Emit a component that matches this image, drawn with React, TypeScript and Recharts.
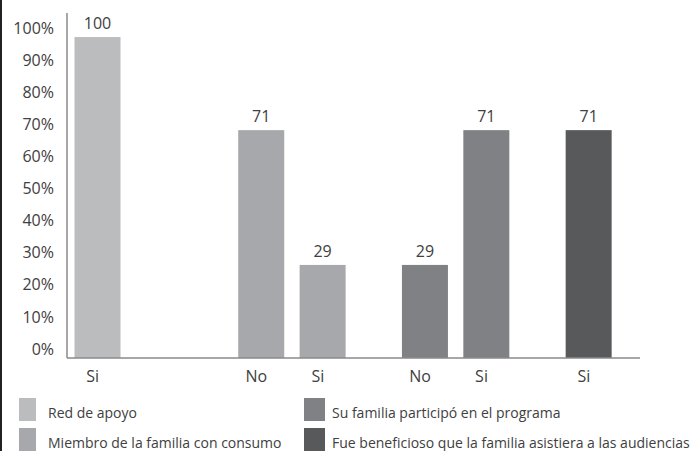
import React from 'react';
import { BarChart, Bar, XAxis, YAxis, Cell, LabelList, Legend } from 'recharts';

const labels = ['Si', 'No', 'Si', 'No', 'Si', 'Si'];
const seriesNames = [
  'Red de apoyo',
  'Miembro de la familia con consumo',
  'Su familia participó en el programa',
  'Fue beneficioso que la familia asistiera a las audiencias'
];
const redDeApoyo = [100, null, null, null, null, null];
const miembroFamilia = [null, 71, 29, null, null, null];
const suFamilia = [null, null, null, 29, 71, null];
const fueBeneficioso = [null, null, null, null, null, 71];
const yTicks = [0, 10, 20, 30, 40, 50, 60, 70, 80, 90, 100];

const seriesValues = [redDeApoyo, miembroFamilia, suFamilia, fueBeneficioso];
const colors = ['#bbbcbe', '#a7a8ab', '#808184', '#58595b'];

// empty category slots used to space the bars like the original
const blanksBefore = [1, 7, 2, 4, 2, 4];
const blanksAfter = 2;

type Row = { label: string; value: number | null; group: number };

const rows: Row[] = [];
labels.forEach((label, i) => {
  for (let b = 0; b < blanksBefore[i]; b++) rows.push({ label: '', value: null, group: -1 });
  const group = seriesValues.findIndex((s) => s[i] != null);
  rows.push({ label, value: seriesValues[group][i], group });
});
for (let b = 0; b < blanksAfter; b++) rows.push({ label: '', value: null, group: -1 });

const FONT = '"Open Sans", sans-serif';
const TEXT = '#404040';
const BAR_W = 46;

const WideBar = (props: any) => {
  const { x, y, width, height, fill } = props;
  if (!height || height <= 0) return <g />;
  return <rect x={x + width / 2 - BAR_W / 2} y={y} width={BAR_W} height={height} fill={fill} />;
};

const LegendBox = () => {
  const item = (i: number, left: number, top: number, sq: number, gap: number) => (
    <div
      key={i}
      style={{ position: 'absolute', left, top, height: 23, display: 'flex', alignItems: 'center' }}
    >
      <div style={{ width: sq, height: 23, background: colors[i], marginRight: gap }} />
      <span style={{ fontSize: 14, color: TEXT, whiteSpace: 'nowrap', paddingTop: 5 }}>
        {seriesNames[i]}
      </span>
    </div>
  );
  return (
    <div style={{ position: 'relative', width: 700, height: 60, fontFamily: FONT }}>
      {item(0, 19, 7, 17, 12)}
      {item(1, 19, 37, 17, 12)}
      {item(2, 304, 7, 21, 7)}
      {item(3, 304, 37, 21, 7)}
    </div>
  );
};

export default function App() {
  return (
    <div style={{ position: 'absolute', left: 0, top: 0, width: 700, height: 451, background: '#fff' }}>
      <div style={{ position: 'absolute', left: 0, top: 0, width: 2, height: 451, background: '#222' }} />
      <BarChart
        width={700}
        height={451}
        data={rows}
        margin={{ top: 13, right: 60, left: 0, bottom: 0 }}
        style={{ fontFamily: FONT }}
      >
        <XAxis
          dataKey="label"
          interval={0}
          tickLine={false}
          tickSize={0}
          tickMargin={13}
          height={33}
          axisLine={{ stroke: '#8a8a8a', strokeWidth: 1.5 }}
          tick={{ fontSize: 16, fill: TEXT, dx: -5 }}
        />
        <YAxis
          width={67}
          domain={[0, 107.5]}
          ticks={yTicks}
          tickFormatter={(v) => `${v}%`}
          tickLine={false}
          tickSize={0}
          tickMargin={13}
          axisLine={{ stroke: '#8a8a8a', strokeWidth: 1.5 }}
          tick={{ fontSize: 16, fill: TEXT, dy: -9 }}
        />
        <Legend
          verticalAlign="bottom"
          content={() => <LegendBox />}
          wrapperStyle={{ left: 0, width: 700, height: 60 }}
        />
        <Bar dataKey="value" shape={WideBar} isAnimationActive={false}>
          {rows.map((r, i) => (
            <Cell key={i} fill={r.group >= 0 ? colors[r.group] : 'none'} />
          ))}
          <LabelList dataKey="value" position="top" offset={8} style={{ fontSize: 16, fill: TEXT }} />
        </Bar>
      </BarChart>
    </div>
  );
}
